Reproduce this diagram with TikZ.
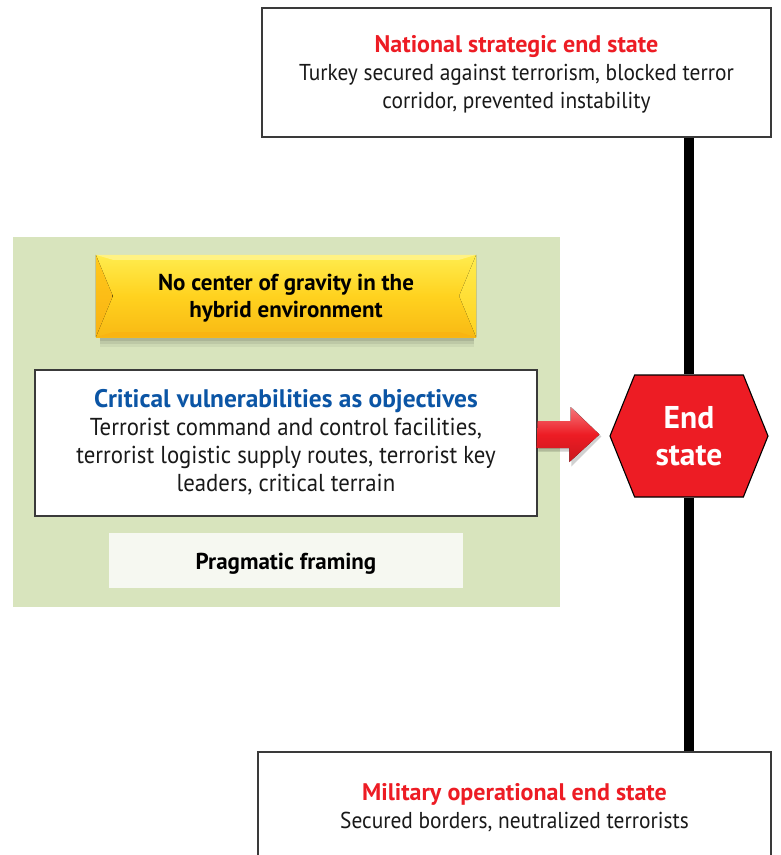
\documentclass[tikz,border=0pt]{standalone}
\usepackage{fontspec}
\setmainfont{PT Sans}[UprightFeatures={FakeStretch=0.93}]
\usetikzlibrary{shapes.symbols,backgrounds,calc}

\definecolor{endred}{HTML}{ED1C24}
\definecolor{cvblue}{HTML}{0B55A5}
\definecolor{panelgreen}{HTML}{D8E4BD}
\definecolor{framefill}{HTML}{F6F8F1}
\definecolor{boxline}{HTML}{3A3A3A}
\definecolor{goldtop}{HTML}{FFEC4E}
\definecolor{goldmid}{HTML}{FFD21F}
\definecolor{goldbot}{HTML}{F8B914}

\tikzset{
  txt/.style={font=\fontsize{23}{28}\selectfont, align=center, text=black!90},
  cvtxt/.style={font=\fontsize{24.5}{28}\selectfont, align=center, text=black!90},
  whitebox/.style={draw=boxline, line width=1.1pt, fill=white, inner sep=0pt},
  heading/.style={font=\fontsize{23}{27}\selectfont\bfseries, align=center},
}

\begin{document}
\begin{tikzpicture}[x=1pt,y=-1pt]
\useasboundingbox (0,0) rectangle (780,855);

% green framing panel
\node[fill=panelgreen, minimum width=547pt, minimum height=370pt, inner sep=0pt]
  (panel) at (286.5,422) {};

% soft shadow under the gold banner
\foreach \d/\o in {10/0.05,7/0.07,4/0.09}
  \fill[black, opacity=\o] (100,262) rectangle (474,337+\d);

% gold beveled banner
\node[top color=goldtop, bottom color=goldbot, middle color=goldmid,
      minimum width=380pt, minimum height=82pt, inner sep=0pt] (cog) at (286,296) {};
\fill[goldtop!70!white] (cog.north west) -- (cog.north east) -- ([xshift=-17pt,yshift=-5pt]cog.north east)
  -- ([xshift=17pt,yshift=-5pt]cog.north west) -- cycle;
\fill[goldbot!92!orange] (cog.south west) -- (cog.south east) -- ([xshift=-17pt,yshift=5pt]cog.south east)
  -- ([xshift=17pt,yshift=5pt]cog.south west) -- cycle;
\fill[top color=goldmid!88!orange, bottom color=goldbot!88!orange]
  (cog.north west) -- ([xshift=17pt]cog.west) -- (cog.south west) -- cycle;
\fill[top color=goldtop, bottom color=goldmid]
  (cog.north east) -- ([xshift=-17pt]cog.east) -- (cog.south east) -- cycle;
\node[heading] at ([yshift=-2pt]cog.center) {No center of gravity in the\\hybrid environment};

% critical vulnerabilities box
\node[whitebox, minimum width=502pt, minimum height=146pt] (cv) at (286,443) {};
\node[cvtxt] at ([yshift=0.5pt]cv.center)
  {{\fontsize{25.4}{28}\selectfont\bfseries\color{cvblue}Critical vulnerabilities as objectives}\\
   Terrorist command and control facilities,\\
   terrorist logistic supply routes, terrorist key\\
   leaders, critical terrain};

% pragmatic framing label
\node[fill=framefill, minimum width=354pt, minimum height=55pt, inner sep=0pt] (pf) at (286,560.5) {};
\node[heading] at ([yshift=-3pt]pf.center) {Pragmatic framing};

% end-state hexagon
\node[signal, signal to=west and east, signal pointer angle=136,
      fill=endred, draw=black, line width=1.1pt,
      minimum width=158pt, minimum height=122pt, inner sep=0pt,
      text=white, align=center, font=\fontsize{31.5}{37}\selectfont\bfseries]
  (es) at (689,436) {End\\state};

% national strategic end state
\node[whitebox, minimum width=509pt, minimum height=129pt] (nat) at (516.5,72.5) {};
\node[txt] at ([yshift=-2pt]nat.center)
  {{\fontsize{24}{28}\selectfont\bfseries\color{endred}National strategic end state}\\
   Turkey secured against terrorism, blocked terror\\
   corridor, prevented instability};

% military operational end state
\node[whitebox, minimum width=513pt, minimum height=106pt] (mil) at (514.5,805) {};
\node[txt] at ([yshift=-2.5pt]mil.center)
  {{\fontsize{24}{28}\selectfont\bfseries\color{endred}Military operational end state}\\
   Secured borders, neutralized terrorists};

% black spine linking the end states
\begin{pgfonlayer}{background}
\draw[line width=10pt] (es.north) -- (es.north |- nat.south);
\draw[line width=10pt] (es.south) -- (es.south |- mil.north);
\end{pgfonlayer}

% red block arrow from the objectives to the end state
\coordinate (tip) at ([xshift=-10pt,yshift=1.5pt]es.west);
\fill[black, opacity=0.18]
  ($(cv.east |- tip)+(2,-11.5)$) -- ++(33,0) -- ++(0,-15) -- ($(tip)+(2,2)$)
  -- ++(-30,30) -- ++(0,-15) -- ++(-33,0) -- cycle;
\fill[top color=endred!60!white, bottom color=endred!85!black, middle color=endred]
  ($(cv.east |- tip)+(0,-13.5)$) -- ++(33,0) -- ++(0,-14) -- (tip)
  -- ++(-30,27.5) -- ++(0,-14) -- ++(-33,0) -- cycle;
\end{tikzpicture}
\end{document}
